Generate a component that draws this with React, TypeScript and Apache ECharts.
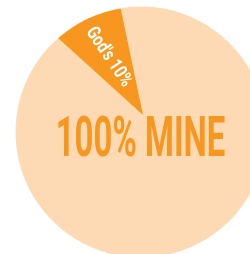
import React, { useEffect, useRef } from "react";
import * as echarts from "echarts";

const categories = ["God's 10%", "100% MINE"];
const shares = [10, 90];
const colors = ["#F7971F", "#FDDAB4"];

export default function App() {
  const ref = useRef<HTMLDivElement>(null);
  useEffect(() => {
    if (!ref.current) return;
    const chart = echarts.init(ref.current, undefined, { renderer: "svg" });
    const cx = 141, cy = 132, R = 125;
    const ax = 143, ay = 115;
    const startDeg = 137.8;
    const total = shares.reduce((a, b) => a + b, 0);
    chart.setOption({
      animation: false,
      series: [
        {
          type: "pie",
          z: 1,
          center: [cx, cy],
          radius: R,
          startAngle: startDeg,
          silent: true,
          label: { show: false },
          labelLine: { show: false },
          itemStyle: { color: colors[1], borderColor: colors[1], borderWidth: 1 },
          data: shares.map((v, i) => ({ name: categories[i], value: v })),
        },
        {
          type: "custom",
          coordinateSystem: "none",
          z: 5,
          silent: true,
          data: [[shares[0]]],
          renderItem: (params: any, api: any) => {
            const v = api.value(0);
            const span = (v / total) * 360;
            const pts: number[][] = [[ax, ay]];
            const n = 40;
            const wx = ax - cx, wy = ay - cy;
            for (let i = 0; i <= n; i++) {
              const th = ((startDeg - (span * i) / n) * Math.PI) / 180;
              const dx = Math.cos(th), dy = -Math.sin(th);
              const b = wx * dx + wy * dy;
              const c = wx * wx + wy * wy - R * R;
              const t = -b + Math.sqrt(b * b - c);
              pts.push([ax + t * dx, ay + t * dy]);
            }
            const mid = ((startDeg - span / 2) * Math.PI) / 180;
            const dist = 68;
            const lx = ax + dist * Math.cos(mid) + 1;
            const ly = ay - dist * Math.sin(mid);
            return {
              type: "group",
              children: [
                { type: "polygon", shape: { points: pts }, style: { fill: colors[0] } },
                {
                  type: "text",
                  x: lx,
                  y: ly,
                  rotation: -(56 * Math.PI) / 180,
                  scaleX: 0.78,
                  z2: 10,
                  style: {
                    text: categories[0],
                    fill: "#ffffff",
                    fontFamily: "Roboto",
                    fontWeight: "bold",
                    fontSize: 19,
                    align: "center",
                    verticalAlign: "middle",
                  },
                },
              ],
            };
          },
        },
      ],
      graphic: [
        {
          type: "text",
          x: 140.5,
          y: 137,
          z: 100,
          scaleX: 0.6,
          silent: true,
          style: {
            text: categories[1],
            fill: colors[0],
            fontFamily: "Roboto",
            fontWeight: "bold",
            fontSize: 55,
            align: "center",
            verticalAlign: "middle",
          },
        },
      ],
    });
    return () => chart.dispose();
  }, []);
  return (
    <div
      ref={ref}
      style={{ position: "fixed", left: 0, top: 0, width: 250, height: 254 }}
    />
  );
}
